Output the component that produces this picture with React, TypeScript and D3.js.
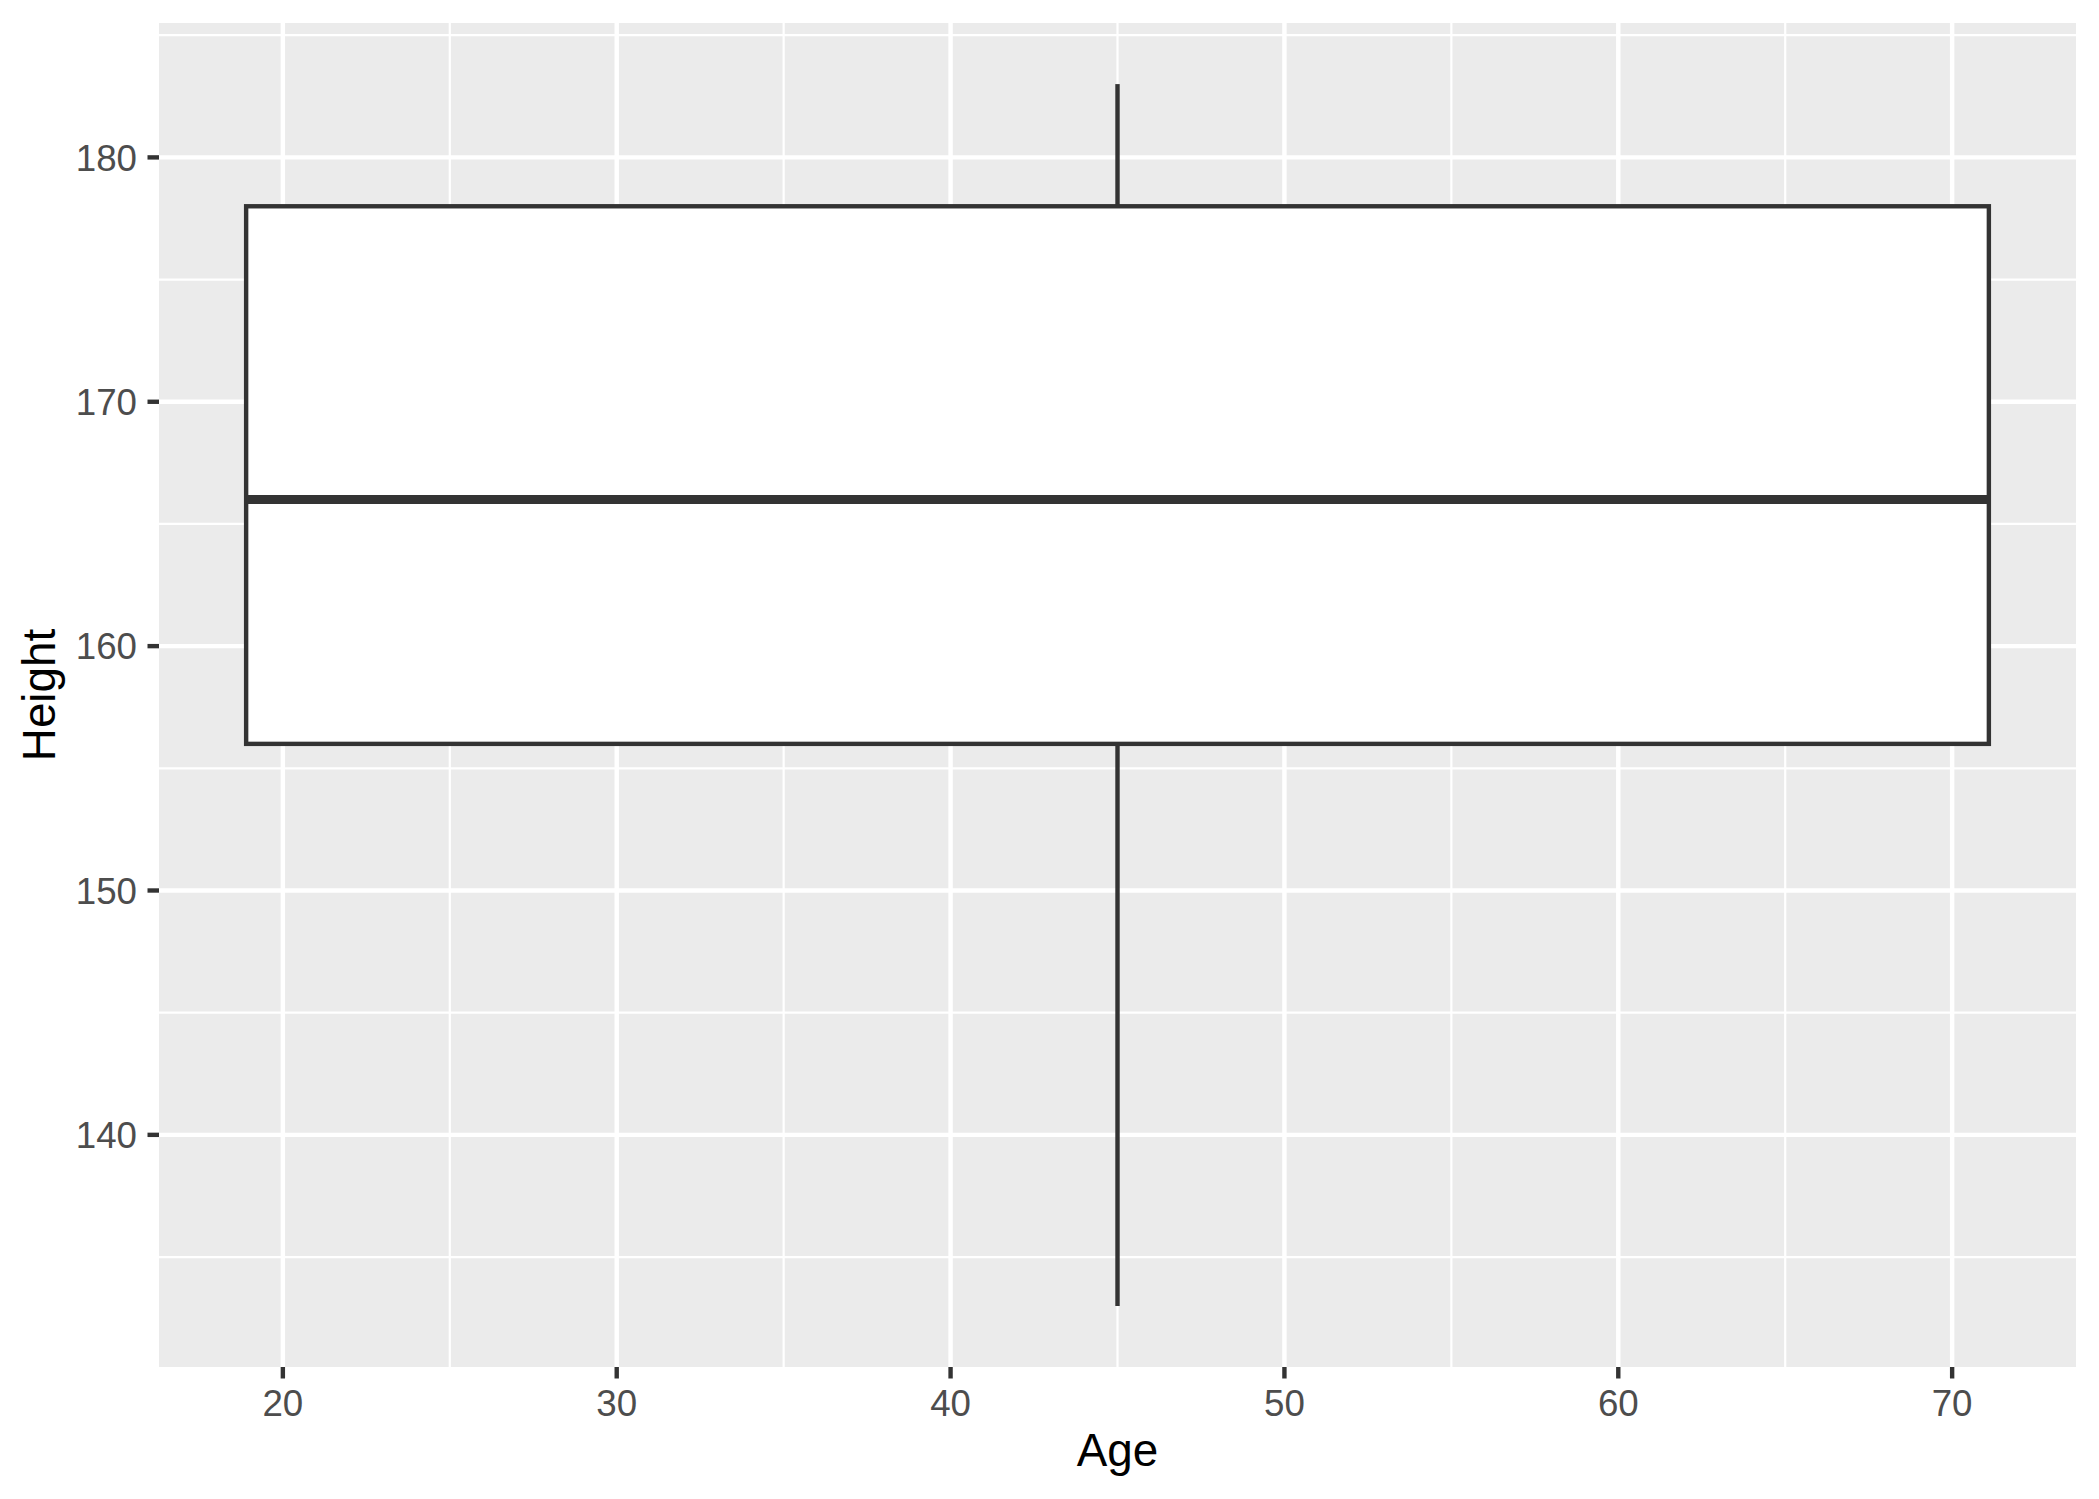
import React from "react";
import * as d3 from "d3";

const ageRange = [18.9, 71.1];
const boxStats = { ymin: 133, lower: 156, middle: 166, upper: 178, ymax: 183 };
const xTicks = [20, 30, 40, 50, 60, 70];
const xMinor = [25, 35, 45, 55, 65];
const yTicks = [140, 150, 160, 170, 180];
const yMinor = [135, 145, 155, 165, 175, 185];
const xLabel = "Age";
const yLabel = "Height";

const W = 2099;
const H = 1499;
const panel = { left: 159, top: 23, right: 2076, bottom: 1367 };

export default function App() {
  const xPad = (ageRange[1] - ageRange[0]) * 0.05;
  const x = d3
    .scaleLinear()
    .domain([ageRange[0] - xPad, ageRange[1] + xPad])
    .range([panel.left, panel.right]);
  const yPad = (boxStats.ymax - boxStats.ymin) * 0.05;
  const y = d3
    .scaleLinear()
    .domain([boxStats.ymin - yPad, boxStats.ymax + yPad])
    .range([panel.bottom, panel.top]);
  const cx = x((ageRange[0] + ageRange[1]) / 2);
  const font = "'Liberation Sans', Arial, sans-serif";
  const lw = 4.4;

  return (
    <svg
      width={W}
      height={H}
      style={{ position: "absolute", left: 0, top: 0, background: "#fff" }}
    >
      <rect
        x={panel.left}
        y={panel.top}
        width={panel.right - panel.left}
        height={panel.bottom - panel.top}
        fill="#EBEBEB"
      />
      {xMinor.map((v) => (
        <line key={"xm" + v} x1={x(v)} x2={x(v)} y1={panel.top} y2={panel.bottom} stroke="#fff" strokeWidth={2.2} />
      ))}
      {yMinor.map((v) => (
        <line key={"ym" + v} x1={panel.left} x2={panel.right} y1={y(v)} y2={y(v)} stroke="#fff" strokeWidth={2.2} />
      ))}
      {xTicks.map((v) => (
        <line key={"xM" + v} x1={x(v)} x2={x(v)} y1={panel.top} y2={panel.bottom} stroke="#fff" strokeWidth={lw} />
      ))}
      {yTicks.map((v) => (
        <line key={"yM" + v} x1={panel.left} x2={panel.right} y1={y(v)} y2={y(v)} stroke="#fff" strokeWidth={lw} />
      ))}

      {/* whiskers */}
      <line x1={cx} x2={cx} y1={y(boxStats.upper)} y2={y(boxStats.ymax)} stroke="#333333" strokeWidth={lw} />
      <line x1={cx} x2={cx} y1={y(boxStats.lower)} y2={y(boxStats.ymin)} stroke="#333333" strokeWidth={lw} />
      {/* box */}
      <rect
        x={x(ageRange[0])}
        y={y(boxStats.upper)}
        width={x(ageRange[1]) - x(ageRange[0])}
        height={y(boxStats.lower) - y(boxStats.upper)}
        fill="#fff"
        stroke="#333333"
        strokeWidth={lw}
      />
      <line
        x1={x(ageRange[0])}
        x2={x(ageRange[1])}
        y1={y(boxStats.middle)}
        y2={y(boxStats.middle)}
        stroke="#333333"
        strokeWidth={lw * 2}
      />

      {/* axes ticks */}
      {xTicks.map((v) => (
        <g key={"xt" + v}>
          <line x1={x(v)} x2={x(v)} y1={panel.bottom} y2={panel.bottom + 11.5} stroke="#333333" strokeWidth={lw} />
          <text
            x={x(v)}
            y={1416}
            textAnchor="middle"
            fontFamily={font}
            fontSize={36.7}
            fill="#4D4D4D"
          >
            {v}
          </text>
        </g>
      ))}
      {yTicks.map((v) => (
        <g key={"yt" + v}>
          <line x1={panel.left - 11.5} x2={panel.left} y1={y(v)} y2={y(v)} stroke="#333333" strokeWidth={lw} />
          <text
            x={137}
            y={y(v) + 13.3}
            textAnchor="end"
            fontFamily={font}
            fontSize={36.7}
            fill="#4D4D4D"
          >
            {v}
          </text>
        </g>
      ))}

      <text
        x={(panel.left + panel.right) / 2}
        y={1466}
        textAnchor="middle"
        fontFamily={font}
        fontSize={45.8}
        fill="#000"
      >
        {xLabel}
      </text>
      <text
        transform={`translate(55, ${(panel.top + panel.bottom) / 2}) rotate(-90)`}
        textAnchor="middle"
        fontFamily={font}
        fontSize={45.8}
        fill="#000"
      >
        {yLabel}
      </text>
    </svg>
  );
}
